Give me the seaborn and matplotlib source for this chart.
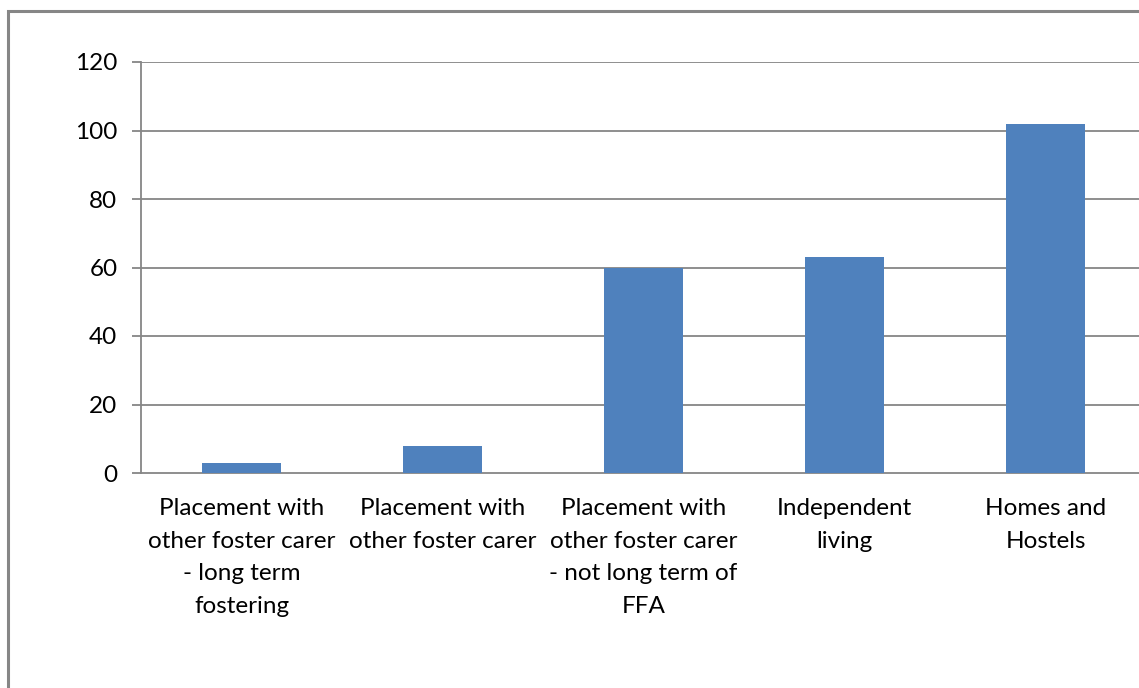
import matplotlib
matplotlib.use("Agg")
import matplotlib.pyplot as plt
from matplotlib.patches import Rectangle
import seaborn as sns
import pandas as pd

categories = [
    "Placement with\nother foster carer\n- long term\nfostering",
    "Placement with\nother foster carer",
    "Placement with\nother foster carer\n- not long term of\nFFA",
    "Independent\nliving",
    "Homes and\nHostels",
]
values = [3, 8, 60, 63, 102]
y_ticks = [0, 20, 40, 60, 80, 100, 120]

df = pd.DataFrame({"category": categories, "count": values})

sns.set_theme(style="white")
plt.rcParams["font.family"] = ["Lato", "DejaVu Sans"]

W, H = 1139, 688
fig = plt.figure(figsize=(W / 100, H / 100), dpi=100)
fig.patch.set_facecolor("white")

# chart-area frame
fig.patches.append(Rectangle((8 / W, -0.2), 1.5, 1.2 - 11 / H,
                             transform=fig.transFigure, fill=False,
                             edgecolor="#868686", linewidth=2.2))

ax = fig.add_axes([141 / W, 1 - 473 / H, (1146 - 141) / W, (473 - 62) / H])
sns.barplot(data=df, x="category", y="count", color="#4F81BD",
            width=0.39, saturation=1, linewidth=0, ax=ax, zorder=3)

ax.set_ylim(0, 120)
ax.set_xlim(-0.5, len(categories) - 0.5)
ax.set_yticks(y_ticks)
ax.set_yticklabels([str(t) for t in y_ticks], fontsize=17.5, color="black")
ax.set_xticks(range(len(categories)))
ax.set_xticklabels(categories, fontsize=17.5, color="black", linespacing=1.68,
                   va="top")
ax.set_xlabel("")
ax.set_ylabel("")

for y in y_ticks[1:]:
    ax.axhline(y, color="#868686", linewidth=1.3, zorder=1)

for s in ["top", "right"]:
    ax.spines[s].set_visible(False)
ax.spines["left"].set_color("#868686")
ax.spines["left"].set_linewidth(1.3)
ax.spines["bottom"].set_color("#868686")
ax.spines["bottom"].set_linewidth(1.3)

# category boundary ticks on the x axis
ax.set_xticks([i - 0.5 for i in range(len(categories) + 1)], minor=True)
ax.tick_params(axis="x", which="major", length=0, pad=18)
ax.tick_params(axis="x", which="minor", length=5, width=1.3,
               color="#868686", direction="out")
ax.tick_params(axis="y", length=6.5, width=1.3, color="#868686",
               direction="out", pad=10.5, left=True)

fig.savefig("out.png", dpi=100, facecolor="white")
